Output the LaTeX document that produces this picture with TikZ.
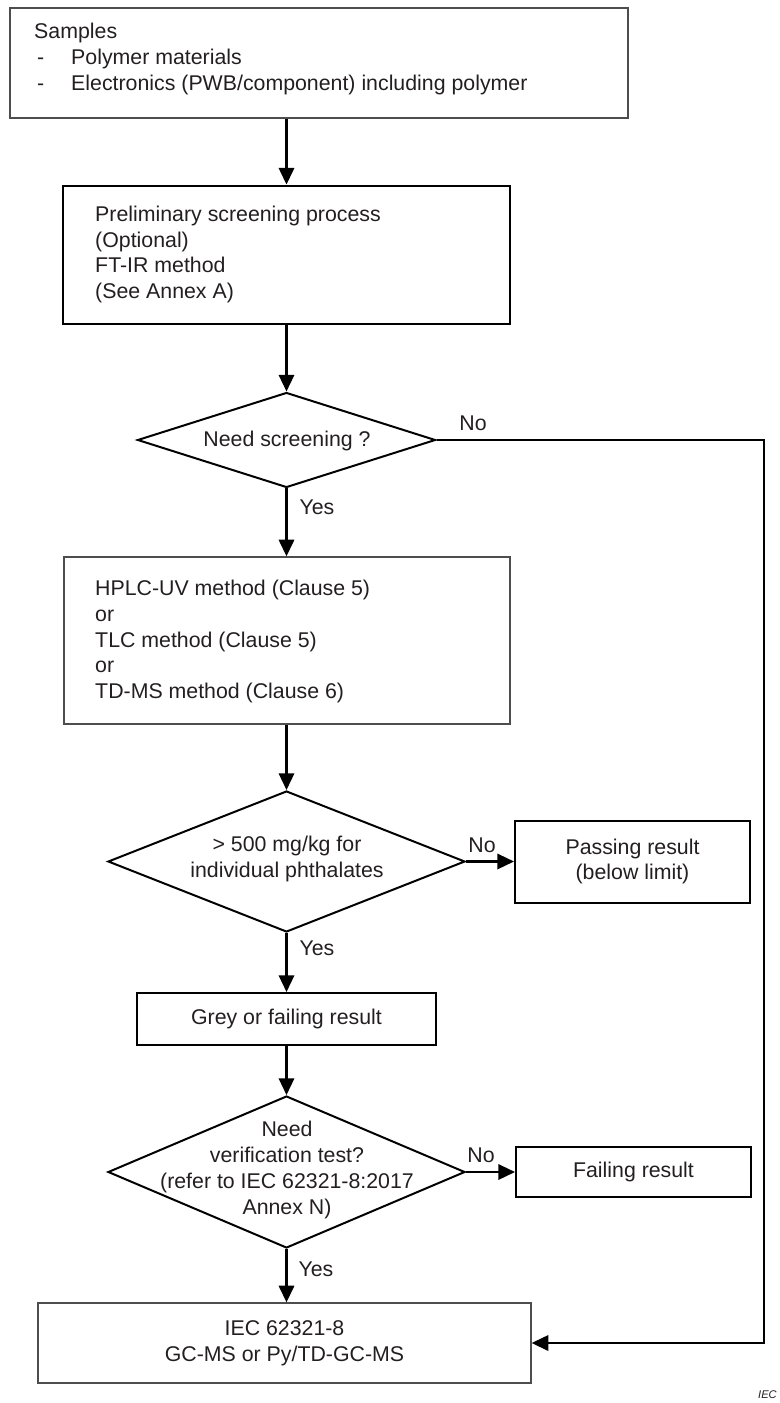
\documentclass[tikz,border=0pt]{standalone}
\usepackage{fontspec}
\setmainfont{Liberation Sans}
\usetikzlibrary{shapes.geometric,arrows.meta}
\definecolor{ink}{HTML}{231F20}
\definecolor{frame}{HTML}{4D4D4D}

\begin{document}
\begin{tikzpicture}[
            x=0.3mm, y=-0.3mm,
            font=\fontsize{18.2}{22}\selectfont,
            every node/.style = {text=ink},
            box/.style = {
                rectangle,
                draw=frame,
                line width=1.1pt,
                inner sep=0pt,
                align=center
            },
            boldbox/.style = {box, draw=black, line width=2.4pt},
            midbox/.style = {box, draw=black, line width=1.7pt},
            decision/.style = {
                diamond,
                draw=black,
                line width=1.7pt,
                inner sep=0pt,
                aspect=1
            },
            txt/.style = {align=left, inner sep=0pt, anchor=west},
            ctxt/.style = {align=center, inner sep=0pt},
            lbl/.style = {inner sep=0pt},
            flow/.style = {-{Triangle[length=5mm, width=4.6mm]}, line width=2pt, color=black}
        ]
            \def\px{0.3mm}
            \useasboundingbox (0,0) rectangle (780,1403);

            \node[box, minimum width=618*\px, minimum height=110*\px] (samples) at (319,63) {};
            \node[txt] (samplestxt) at (34,59) {Samples\\
                \makebox[11.1mm][l]{\hspace{2.5pt}-}Polymer materials\\
                \makebox[11.1mm][l]{\hspace{2.5pt}-}Electronics (PWB/component) including polymer};

            \node[boldbox, minimum width=447*\px, minimum height=138*\px] (prelim) at (286.5,255) {};
            \node[txt] (prelimtxt) at (95,254.5) {Preliminary screening process\\(Optional)\\FT-IR method\\(See Annex A)};

            \node[decision, minimum width=298*\px, minimum height=95*\px] (screen) at (286.5,440) {};
            \node[ctxt] (screentxt) at (287,441) {Need screening ?};

            \node[box, minimum width=446*\px, minimum height=167*\px] (hplc) at (287,640.5) {};
            \node[txt] (hplctxt) at (95,641.5) {HPLC-UV method (Clause 5)\\or\\TLC method (Clause 5)\\or\\TD-MS method (Clause 6)};

            \node[decision, minimum width=357*\px, minimum height=141*\px] (limit) at (286.5,861.5) {};
            \node[ctxt] (limittxt) at (287,859) {> 500 mg/kg for\\individual phthalates};
            \node[midbox, minimum width=235*\px, minimum height=82*\px] (passing) at (632.5,861.5) {Passing result\\(below limit)};

            \node[midbox, minimum width=299*\px, minimum height=52*\px] (grey) at (286.5,1019) {Grey or failing result};

            \node[decision, minimum width=357*\px, minimum height=152*\px] (verify) at (286.5,1172) {};
            \node[ctxt] (verifytxt) at (287,1170) {Need\\verification test?\\(refer to IEC 62321-8:2017\\Annex N)};
            \node[midbox, minimum width=235*\px, minimum height=50*\px] (failing) at (633.5,1172) {Failing result};

            \node[box, minimum width=493*\px, minimum height=80*\px] (final) at (284.5,1343) {IEC 62321-8\\GC-MS or Py/TD-GC-MS};

            \coordinate (bend) at (764,440);

            \draw[flow] (samples.south -| prelim.north) -- (prelim.north);
            \draw[flow] (prelim.south) -- (screen.north);
            \draw[flow] (screen.south) -- (hplc.north -| screen.south);
            \draw[flow] (hplc.south -| limit.north) -- (limit.north);
            \draw[flow] (limit.east) -- (passing.west);
            \draw[flow] (limit.south) -- (grey.north);
            \draw[flow] (grey.south) -- (verify.north);
            \draw[flow] (verify.east) -- (failing.west);
            \draw[flow] (verify.south) -- (verify.south |- final.north);
            \draw[flow] (screen.east) -- (bend) |- (final.east);

            \node[lbl] (no1) at (473,423) {No};
            \node[lbl] (yes1) at (317,507) {Yes};
            \node[lbl] (no2) at (482,845) {No};
            \node[lbl] (yes2) at (317,948) {Yes};
            \node[lbl] (no3) at (481,1155) {No};
            \node[lbl] (yes3) at (316,1269) {Yes};

            \node[lbl, anchor=east, font=\fontsize{9.5}{11}\selectfont\itshape] (iec) at (777,1395) {IEC};
        \end{tikzpicture}
\end{document}
